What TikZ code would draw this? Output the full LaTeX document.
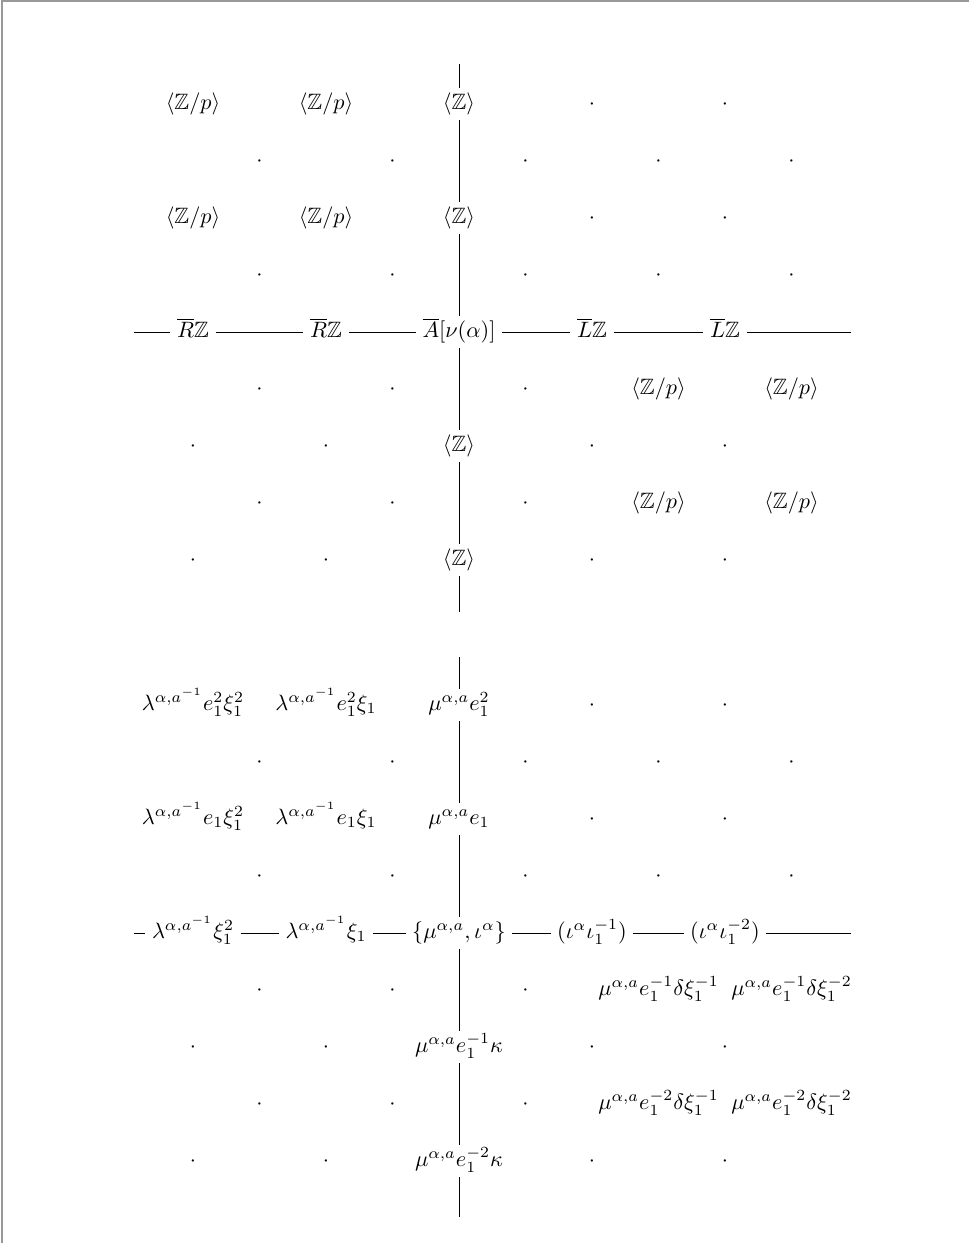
\documentclass[tikz,border=0pt]{standalone}
\usepackage{amssymb}
\begin{document}
\begin{tikzpicture}[x=0.45pt,y=-0.45pt,
  lab/.style={inner xsep=3pt, inner ysep=0.8pt, outer sep=0pt, text height=9pt, text depth=4pt},
  dotn/.style={inner sep=0pt, outer sep=0pt},
  conn/.style={draw=black, line width=0.4pt},
  frame/.style={draw=black!40, line width=0.7pt}]
\useasboundingbox (0,0) rectangle (969,1243);
\coordinate (fbl) at (2,1243);
\coordinate (ftl) at (2,1);
\coordinate (ftr) at (969,1);
\draw[frame] (fbl) -- (ftl) -- (ftr);

% ---------- top diagram ----------
\node[lab] (a11) at (193,104) {$\langle\mathbb{Z}/p\rangle$};
\node[lab] (a12) at (326,104) {$\langle\mathbb{Z}/p\rangle$};
\node[lab] (a13) at (459,104) {$\langle\mathbb{Z}\rangle$};
\node[lab] (a21) at (193,218) {$\langle\mathbb{Z}/p\rangle$};
\node[lab] (a22) at (326,218) {$\langle\mathbb{Z}/p\rangle$};
\node[lab] (a23) at (459,218) {$\langle\mathbb{Z}\rangle$};
\node[lab] (ax1) at (193,332) {$\overline{R}\mathbb{Z}$};
\node[lab] (ax2) at (326,332) {$\overline{R}\mathbb{Z}$};
\node[lab] (ax3) at (459,332) {$\overline{A}[\nu(\alpha)]$};
\node[lab] (ax4) at (592,332) {$\overline{L}\mathbb{Z}$};
\node[lab] (ax5) at (725,332) {$\overline{L}\mathbb{Z}$};
\node[lab] (b14) at (658.5,389) {$\langle\mathbb{Z}/p\rangle$};
\node[lab] (b15) at (791.5,389) {$\langle\mathbb{Z}/p\rangle$};
\node[lab] (b23) at (459,446) {$\langle\mathbb{Z}\rangle$};
\node[lab] (b34) at (658.5,503) {$\langle\mathbb{Z}/p\rangle$};
\node[lab] (b35) at (791.5,503) {$\langle\mathbb{Z}/p\rangle$};
\node[lab] (b43) at (459,560) {$\langle\mathbb{Z}\rangle$};
\coordinate (tt) at (459,64);
\coordinate (tb) at (459,612);
\coordinate (tl) at (134,332);
\coordinate (tr) at (851,332);
\draw[conn] (tt) -- (a13);
\draw[conn] (a13) -- (a23);
\draw[conn] (a23) -- (ax3);
\draw[conn] (ax3) -- (b23);
\draw[conn] (b23) -- (b43);
\draw[conn] (b43) -- (tb);
\draw[conn] (tl) -- (ax1);
\draw[conn] (ax1) -- (ax2);
\draw[conn] (ax2) -- (ax3);
\draw[conn] (ax3) -- (ax4);
\draw[conn] (ax4) -- (ax5);
\draw[conn] (ax5) -- (tr);

% ---------- bottom diagram ----------
\node[lab] (c11) at (193,705) {$\lambda^{\alpha,a^{-1}}e_1^2\xi_1^2$};
\node[lab] (c12) at (326,705) {$\lambda^{\alpha,a^{-1}}e_1^2\xi_1$};
\node[lab] (c13) at (459,705) {$\mu^{\alpha,a}e_1^2$};
\node[lab] (c21) at (193,819) {$\lambda^{\alpha,a^{-1}}e_1\xi_1^2$};
\node[lab] (c22) at (326,819) {$\lambda^{\alpha,a^{-1}}e_1\xi_1$};
\node[lab] (c23) at (459,819) {$\mu^{\alpha,a}e_1$};
\node[lab] (cx1) at (193,933) {$\lambda^{\alpha,a^{-1}}\xi_1^2$};
\node[lab] (cx2) at (326,933) {$\lambda^{\alpha,a^{-1}}\xi_1$};
\node[lab] (cx3) at (459,933) {$\{\mu^{\alpha,a},\iota^\alpha\}$};
\node[lab] (cx4) at (592,933) {$(\iota^\alpha\iota_1^{-1})$};
\node[lab] (cx5) at (725,933) {$(\iota^\alpha\iota_1^{-2})$};
\node[lab] (d14) at (658.5,990) {$\mu^{\alpha,a}e_1^{-1}\delta\xi_1^{-1}$};
\node[lab] (d15) at (791.5,990) {$\mu^{\alpha,a}e_1^{-1}\delta\xi_1^{-2}$};
\node[lab] (d23) at (459,1047) {$\mu^{\alpha,a}e_1^{-1}\kappa$};
\node[lab] (d34) at (658.5,1104) {$\mu^{\alpha,a}e_1^{-2}\delta\xi_1^{-1}$};
\node[lab] (d35) at (791.5,1104) {$\mu^{\alpha,a}e_1^{-2}\delta\xi_1^{-2}$};
\node[lab] (d43) at (459,1161) {$\mu^{\alpha,a}e_1^{-2}\kappa$};
\coordinate (bt) at (459,657);
\coordinate (bb) at (459,1217);
\coordinate (bl) at (134,933);
\coordinate (br) at (851,933);
\draw[conn] (bt) -- (c13);
\draw[conn] (c13) -- (c23);
\draw[conn] (c23) -- (cx3);
\draw[conn] (cx3) -- (d23);
\draw[conn] (d23) -- (d43);
\draw[conn] (d43) -- (bb);
\draw[conn] (bl) -- (cx1);
\draw[conn] (cx1) -- (cx2);
\draw[conn] (cx2) -- (cx3);
\draw[conn] (cx3) -- (cx4);
\draw[conn] (cx4) -- (cx5);
\draw[conn] (cx5) -- (br);

% ---------- dots ----------
\foreach \x/\y [count=\i] in {592/104,725/104,
  259.5/161,392.5/161,525.5/161,658.5/161,791.5/161,
  592/218,725/218,
  259.5/275,392.5/275,525.5/275,658.5/275,791.5/275,
  259.5/389,392.5/389,525.5/389,
  193/446,326/446,592/446,725/446,
  259.5/503,392.5/503,525.5/503,
  193/560,326/560,592/560,725/560}{
  \node[lab,dotn] (td\i) at (\x,\y) {$\cdot$};
  \node[lab,dotn] (bd\i) at (\x,{\y+601}) {$\cdot$};
}
\end{tikzpicture}
\end{document}
